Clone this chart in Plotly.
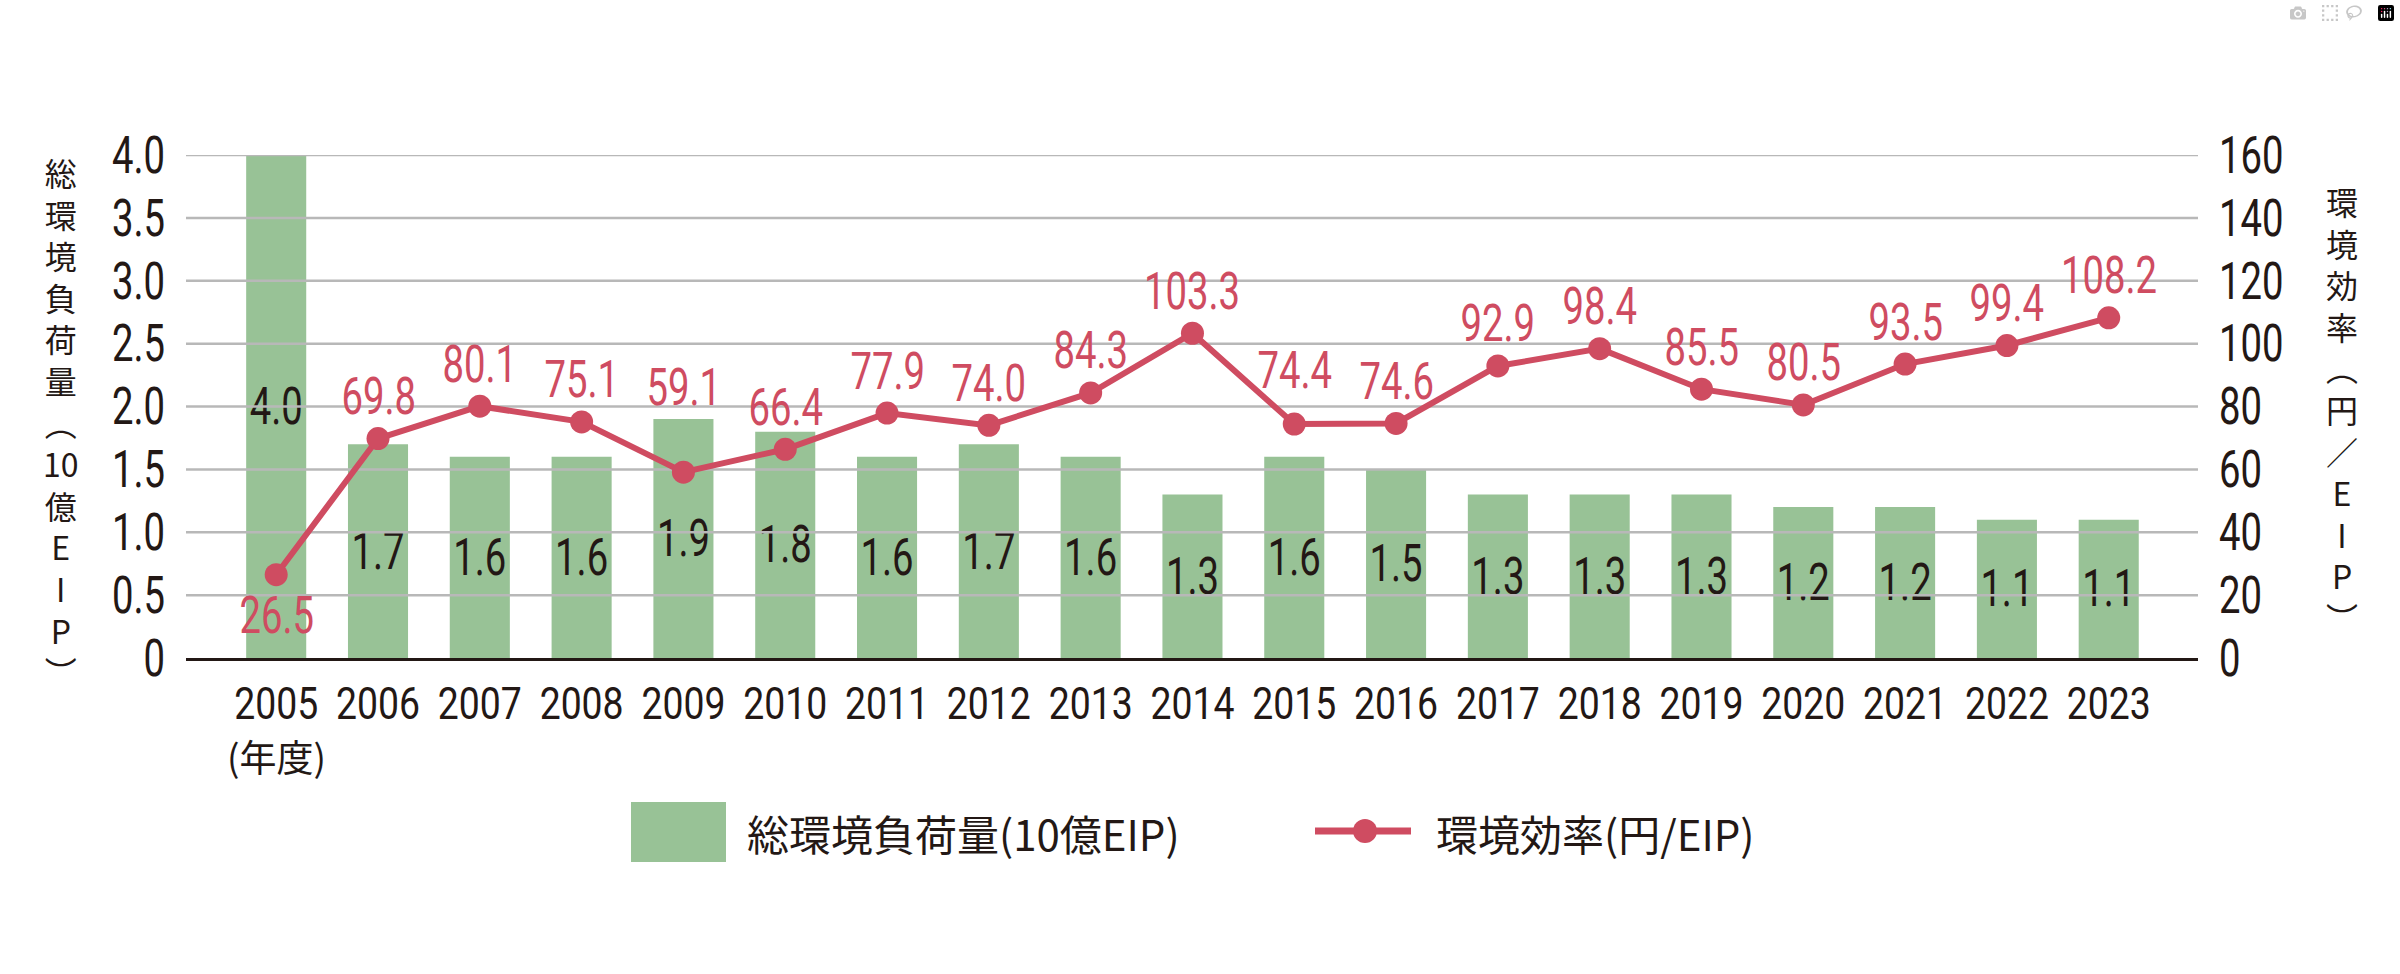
import plotly.graph_objects as go

# ---------------- data ----------------
years = [2005, 2006, 2007, 2008, 2009, 2010, 2011, 2012, 2013, 2014,
         2015, 2016, 2017, 2018, 2019, 2020, 2021, 2022, 2023]
total_load = [4.0, 1.7, 1.6, 1.6, 1.9, 1.8, 1.6, 1.7, 1.6, 1.3,
              1.6, 1.5, 1.3, 1.3, 1.3, 1.2, 1.2, 1.1, 1.1]
efficiency = [26.5, 69.8, 80.1, 75.1, 59.1, 66.4, 77.9, 74.0, 84.3, 103.3,
              74.4, 74.6, 92.9, 98.4, 85.5, 80.5, 93.5, 99.4, 108.2]
left_ticks = [0, 0.5, 1.0, 1.5, 2.0, 2.5, 3.0, 3.5, 4.0]
left_ticktext = ["0", "0.5", "1.0", "1.5", "2.0", "2.5", "3.0", "3.5", "4.0"]
right_ticks = [0, 20, 40, 60, 80, 100, 120, 140, 160]
right_ticktext = ["0", "20", "40", "60", "80", "100", "120", "140", "160"]
left_title = ["総", "環", "境", "負", "荷", "量", "︵", "10", "億", "E", "I", "P", "︶"]
right_title = ["環", "境", "効", "率", "︵", "円", "／", "E", "I", "P", "︶"]
legend_bar = "総環境負荷量(10億EIP)"
legend_line = "環境効率(円/EIP)"
year_unit = "(年度)"

# ---------------- style ----------------
W, H = 2400, 974
L, R, T, B = 186, 202, 155, 316
PW, PH = W - L - R, H - T - B
GREEN = "#98C296"
RED = "#CF4C61"
INK = "#231815"
GRID = "#B8B8B8"
NUM_FONT = "Roboto, sans-serif"          # condensed in the page
XTICK_FONT = "Roboto, Arial, sans-serif"  # condensed a little less
JP_FONT = "Noto Sans CJK JP, sans-serif"
NUM_SIZE = 51
XTICK_SIZE = 45
NUM_CONDENSE = 0.75
XTICK_CONDENSE = 0.83
TITLE_SIZE = 32
x_range = [years[0] - 0.886, years[-1] + 0.877]
label_shift = [-41, 42, 42, 42, 85, 42, 42, 42, 42, 42, 54, 42, 42, 42, 42, 42, 42, 42, 42]


def px(x):
    return (x - L) / PW


def py(y):
    return (T + PH - y) / PH


fig = go.Figure()

fig.add_trace(go.Bar(
    x=years, y=total_load, width=0.59,
    marker=dict(color=GREEN, line=dict(width=0)),
    text=[f"{v:.1f}" for v in total_load],
    textposition="inside", insidetextanchor="middle", textangle=0,
    constraintext="none",
    textfont=dict(family=NUM_FONT, size=NUM_SIZE, color=INK),
    insidetextfont=dict(family=NUM_FONT, size=NUM_SIZE, color=INK),
    hoverinfo="skip", showlegend=False, yaxis="y",
))

# gridlines drawn above the bars (below the efficiency line)
gx, gy = [], []
for t in left_ticks[1:]:
    gx += [x_range[0], x_range[1], None]
    gy += [t, t, None]
fig.add_trace(go.Scatter(
    x=gx, y=gy, mode="lines", line=dict(color=GRID, width=2.5),
    hoverinfo="skip", showlegend=False, yaxis="y", cliponaxis=False,
))

fig.add_trace(go.Scatter(
    x=years, y=efficiency, mode="lines+markers",
    line=dict(color=RED, width=6),
    marker=dict(color=RED, size=23),
    hoverinfo="skip", showlegend=False, yaxis="y2", cliponaxis=False,
))

annotations = []
for yr, v, dy in zip(years, efficiency, label_shift):
    annotations.append(dict(
        x=yr, y=v, xref="x", yref="y2", text=f"{v:.1f}", showarrow=False,
        xanchor="center", yanchor="middle", yshift=dy, borderpad=0,
        font=dict(family=NUM_FONT, size=NUM_SIZE, color=RED),
    ))

# vertical axis titles (one text each, stacked characters)
annotations.append(dict(
    x=px(61), y=py(421), xref="paper", yref="paper", text="<br>".join(left_title),
    showarrow=False, xanchor="center", yanchor="middle", align="center", borderpad=0,
    font=dict(family=JP_FONT, size=TITLE_SIZE, color=INK),
))
annotations.append(dict(
    x=px(2342), y=py(409), xref="paper", yref="paper", text="<br>".join(right_title),
    showarrow=False, xanchor="center", yanchor="middle", align="center", borderpad=0,
    font=dict(family=JP_FONT, size=TITLE_SIZE, color=INK),
))

annotations.append(dict(
    x=years[0], y=py(756), xref="x", yref="paper", text=year_unit, showarrow=False,
    xanchor="center", yanchor="middle", borderpad=0,
    font=dict(family=JP_FONT, size=37, color=INK),
))

# legend
annotations.append(dict(
    x=px(745), y=py(832), xref="paper", yref="paper", text=legend_bar, showarrow=False,
    xanchor="left", yanchor="middle", font=dict(family=JP_FONT, size=42, color=INK),
))
annotations.append(dict(
    x=px(1434), y=py(832), xref="paper", yref="paper", text=legend_line, showarrow=False,
    xanchor="left", yanchor="middle", font=dict(family=JP_FONT, size=42, color=INK),
))
shapes = [
    dict(type="rect", xref="paper", yref="paper", x0=px(631), x1=px(726),
         y0=py(862), y1=py(802), fillcolor=GREEN, line=dict(width=0)),
    dict(type="line", xref="paper", yref="paper", x0=px(1315), x1=px(1411),
         y0=py(831), y1=py(831), line=dict(color=RED, width=7)),
    dict(type="circle", xref="paper", yref="paper", x0=px(1365 - 12), x1=px(1365 + 12),
         y0=py(831 + 12), y1=py(831 - 12), fillcolor=RED, line=dict(width=0)),
]

fig.update_layout(
    width=W, height=H, autosize=False,
    margin=dict(l=L, r=R, t=T, b=B, pad=0),
    paper_bgcolor="white", plot_bgcolor="white",
    showlegend=False,
    annotations=annotations, shapes=shapes,
    xaxis=dict(
        range=x_range, tickmode="array", tickvals=years,
        ticktext=[str(y) for y in years], tickangle=0, automargin=False,
        showgrid=False, zeroline=False, showline=True, linecolor=INK, linewidth=3,
        ticks="", ticklabelstandoff=4,
        tickfont=dict(family=XTICK_FONT, size=XTICK_SIZE, color=INK),
        fixedrange=True,
    ),
    yaxis=dict(
        range=[0, 4], tickmode="array", tickvals=left_ticks, ticktext=left_ticktext,
        showgrid=False, zeroline=False, showline=False, ticks="", automargin=False,
        ticklabelstandoff=20,
        tickfont=dict(family=NUM_FONT, size=NUM_SIZE, color=INK), fixedrange=True,
    ),
    yaxis2=dict(
        range=[0, 160], tickmode="array", tickvals=right_ticks, ticktext=right_ticktext,
        overlaying="y", side="right", automargin=False,
        showgrid=False, zeroline=False, showline=False, ticks="",
        ticklabelstandoff=20,
        tickfont=dict(family=NUM_FONT, size=NUM_SIZE, color=INK), fixedrange=True,
    ),
)

# condensed look for the numeric labels (the reference uses a condensed face)
page_js = """
document.body.style.margin = '0';
var gd = document.getElementById('{plot_id}');
function condense() {
  gd.querySelectorAll('text').forEach(function (t) {
    var ff = t.style.fontFamily || '';
    if (ff.indexOf('Roboto') === -1 || t.getAttribute('data-cond')) return;
    var k = ff.indexOf('Arial') !== -1 ? __XK__ : __NK__;
    var w = t.getComputedTextLength();
    if (w > 0) {
      t.setAttribute('textLength', (w * k).toFixed(2));
      t.setAttribute('lengthAdjust', 'spacingAndGlyphs');
      t.setAttribute('data-cond', '1');
    }
  });
}
condense();
gd.on('plotly_afterplot', condense);
"""
page_js = page_js.replace("__XK__", str(XTICK_CONDENSE)).replace("__NK__", str(NUM_CONDENSE))

fig.write_html("out.html", post_script=page_js)
